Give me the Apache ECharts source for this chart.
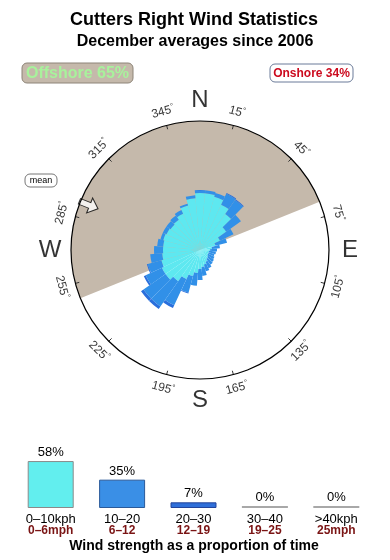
<!DOCTYPE html>
<html><head><meta charset="utf-8">
<script src="https://cdn.jsdelivr.net/npm/echarts@6/dist/echarts.min.js"></script>
<style>html,body{margin:0;padding:0;background:#fff}#c{width:390px;height:560px}</style>
</head><body><div id="c"></div>
<script>
// ---- data ----
const roseDirections = [0,10,20,30,40,50,60,70,80,90,100,110,120,130,140,150,160,170,180,190,200,210,220,230,240,250,260,270,280,290,300,310,320,330,340,350];
const roseLight  = [57,57,55,50,44,32,22,16,12,10,9,9,9,10,11,13,15,17,19,23,27,32,38,42,42,40,38,37,37,38,37,36,37,40,46,52];
const roseMid    = [3,3,4,12,17,18,15,12,8,7,7,6,7,7,7,7,7,9,11,13,17,29,31,27,18,14,12,9,6,3,4,5,5,4,2,3];
const roseStrong = [0,0,0,1,1,0,0,0,0,0,0,0,0,0,0,0,0,0,0,0,1,3,3,3,2,1,0,0,0,0,0,0,0,0,0,0];
const offshoreStart = 248;
const offshoreEnd = 68;
const meanDirection = 292;
const degreeTicks = [15,45,75,105,135,165,195,225,255,285,315,345];
const compassLetters = ['N','E','S','W'];
const compassAngles = [0,90,180,270];
const speedBandsKph = ['0–10kph','10–20','20–30','30–40','>40kph'];
const speedBandsMph = ['0–6mph','6–12','12–19','19–25','25mph'];
const speedShares = [58,35,7,0,0];
const offshoreText = 'Offshore 65%';
const onshoreText = 'Onshore 34%';

// ---- styles ----
const FONT = '"Liberation Sans", Arial, sans-serif';
const CX = 200, CY = 250, R = 129;
const cLight = '#5ee8f0', cMid = '#3190e8', cStrong = '#2a6fdc';
const tan = '#c5b9ab';
const bandColors = ['#62eeee', '#3a8fe6', '#2f6fd9', '#2f6fd9', '#2f6fd9'];
const bandBorders = ['#8a8a8a', '#2a5a9a', '#22449a', '#999', '#999'];

function tickRot(b) {
  let cw;
  if (b <= 90 || b >= 270) cw = b > 180 ? b - 360 : b;
  else cw = b - 180;
  return -cw;
}

const chart = echarts.init(document.getElementById('c'), null, {renderer: 'canvas'});

const option = {
  animation: false,
  backgroundColor: '#fff',
  polar: [
    {center: [CX, CY], radius: R},
    {center: [CX, CY], radius: R},
    {center: [CX, CY], radius: R}
  ],
  angleAxis: [
    {polarIndex: 0, type: 'category', data: roseDirections, startAngle: 95, clockwise: true,
     boundaryGap: true, show: false},
    {polarIndex: 1, type: 'value', min: 0, max: 360, interval: 30, startAngle: 75, clockwise: true, z: 10,
     axisLine: {show: true, lineStyle: {color: '#000', width: 1.2}},
     axisTick: {show: true, inside: true, length: 4, lineStyle: {color: '#333', width: 1}},
     axisLabel: {show: false}, splitLine: {show: false}},
    {polarIndex: 2, type: 'value', min: 0, max: 360, startAngle: 90, clockwise: true, show: false}
  ],
  radiusAxis: [
    {polarIndex: 0, type: 'value', min: 0, max: R, show: false},
    {polarIndex: 1, type: 'value', min: 0, max: R, show: false},
    {polarIndex: 2, type: 'value', min: 0, max: R, show: false}
  ],
  grid: {left: 15, right: 18, top: 440, height: 68},
  xAxis: {
    type: 'category', data: speedBandsKph,
    axisLine: {show: false}, axisTick: {show: false},
    axisLabel: {
      interval: 0, margin: 6,
      formatter: (v, i) => `{a|${v}}\n{b|${speedBandsMph[i]}}`,
      rich: {
        a: {fontFamily: FONT, fontSize: 13, color: '#000', lineHeight: 11},
        b: {fontFamily: FONT, fontSize: 12, fontWeight: 'bold', color: '#7a1414', lineHeight: 11}
      }
    }
  },
  yAxis: {type: 'value', min: 0, max: 84, show: false},
  series: [
    {
      type: 'pie', center: [CX, CY], radius: [0, R], startAngle: 90, clockwise: true, z: 1,
      silent: true, label: {show: false}, labelLine: {show: false}, emphasis: {disabled: true},
      itemStyle: {borderWidth: 0},
      data: [
        {value: offshoreEnd, itemStyle: {color: tan}},
        {value: offshoreStart - offshoreEnd, itemStyle: {color: 'rgba(0,0,0,0)'}},
        {value: 360 - offshoreStart, itemStyle: {color: tan}}
      ]
    },
    {type: 'bar', coordinateSystem: 'polar', polarIndex: 0, stack: 'rose', data: roseLight, z: 3,
     barCategoryGap: '0%', silent: true, itemStyle: {color: cLight, borderWidth: 0}},
    {type: 'bar', coordinateSystem: 'polar', polarIndex: 0, stack: 'rose', data: roseMid, z: 3,
     barCategoryGap: '0%', silent: true, itemStyle: {color: cMid, borderWidth: 0}},
    {type: 'bar', coordinateSystem: 'polar', polarIndex: 0, stack: 'rose', data: roseStrong, z: 3,
     barCategoryGap: '0%', silent: true, itemStyle: {color: cStrong, borderWidth: 0}},
    {
      type: 'scatter', coordinateSystem: 'polar', polarIndex: 2, clip: false, z: 6, silent: true,
      symbolSize: 1, itemStyle: {color: 'rgba(0,0,0,0)'},
      data: degreeTicks.map(d => ({value: [143, d], label: {rotate: tickRot(d)}})),
      label: {show: true, position: 'inside', fontFamily: FONT, fontSize: 12, color: '#000',
        formatter: p => `${p.value[1]}{d|°}`,
        rich: {d: {fontSize: 8, fontFamily: FONT, color: '#000', padding: [0, 0, 6, 0]}}}
    },
    {
      type: 'scatter', coordinateSystem: 'polar', polarIndex: 2, clip: false, z: 6, silent: true,
      symbolSize: 1, itemStyle: {color: 'rgba(0,0,0,0)'},
      data: compassAngles.map((a, i) => ({value: [150, a], name: compassLetters[i]})),
      label: {show: true, position: 'inside', fontFamily: FONT, fontSize: 24, color: '#000',
        formatter: p => p.name}
    },
    {
      type: 'scatter', coordinateSystem: 'polar', polarIndex: 2, clip: false, z: 7, silent: true,
      symbol: 'path://M8,0 L16,9 L11,9 L11,20 L5,20 L5,9 L0,9 Z',
      symbolSize: [16, 20], symbolRotate: -(meanDirection - 180),
      itemStyle: {color: '#fff', borderColor: '#000', borderWidth: 1},
      data: [[120, meanDirection]]
    },
    {
      type: 'bar', xAxisIndex: 0, yAxisIndex: 0, barWidth: 46, barMinHeight: 2,
      data: speedShares.map((v, i) => ({
        value: v,
        itemStyle: v > 0
          ? {color: bandColors[i], borderColor: bandBorders[i], borderWidth: 1}
          : {color: '#a8a8a8', borderWidth: 0}
      })),
      label: {show: true, position: 'top', distance: 2, fontFamily: FONT, fontSize: 13, color: '#000',
        formatter: p => p.value + '%'}
    }
  ],
  graphic: [
    {type: 'text', x: 194, y: 20, style: {text: 'Cutters Right Wind Statistics', font: 'bold 18px ' + FONT,
      fill: '#000', align: 'center', verticalAlign: 'middle', textAlign: 'center', textVerticalAlign: 'middle'}},
    {type: 'text', x: 195, y: 42, style: {text: 'December averages since 2006', font: 'bold 16px ' + FONT,
      fill: '#000', align: 'center', verticalAlign: 'middle', textAlign: 'center', textVerticalAlign: 'middle'}},
    {type: 'rect', shape: {x: 22, y: 63, width: 111, height: 20, r: 5},
      style: {fill: tan, stroke: '#8d8478', lineWidth: 1}},
    {type: 'text', x: 77.5, y: 73.5, style: {text: offshoreText, font: 'bold 16px ' + FONT,
      fill: '#a8f29c', align: 'center', verticalAlign: 'middle', textAlign: 'center', textVerticalAlign: 'middle'}},
    {type: 'rect', shape: {x: 270, y: 64, width: 83, height: 18, r: 5},
      style: {fill: '#fff', stroke: '#6b7b99', lineWidth: 1}},
    {type: 'text', x: 311.5, y: 73.5, style: {text: onshoreText, font: 'bold 12px ' + FONT,
      fill: '#cc0a1e', align: 'center', verticalAlign: 'middle', textAlign: 'center', textVerticalAlign: 'middle'}},
    {type: 'rect', shape: {x: 25, y: 174, width: 32, height: 13, r: 5},
      style: {fill: '#fff', stroke: '#777', lineWidth: 1}},
    {type: 'text', x: 41, y: 180.5, style: {text: 'mean', font: '9px ' + FONT,
      fill: '#000', align: 'center', verticalAlign: 'middle', textAlign: 'center', textVerticalAlign: 'middle'}},
    {type: 'text', x: 194, y: 546, style: {text: 'Wind strength as a proportion of time', font: 'bold 14px ' + FONT,
      fill: '#000', align: 'center', verticalAlign: 'middle', textAlign: 'center', textVerticalAlign: 'middle'}}
  ]
};
chart.setOption(option);
</script>
</body></html>
